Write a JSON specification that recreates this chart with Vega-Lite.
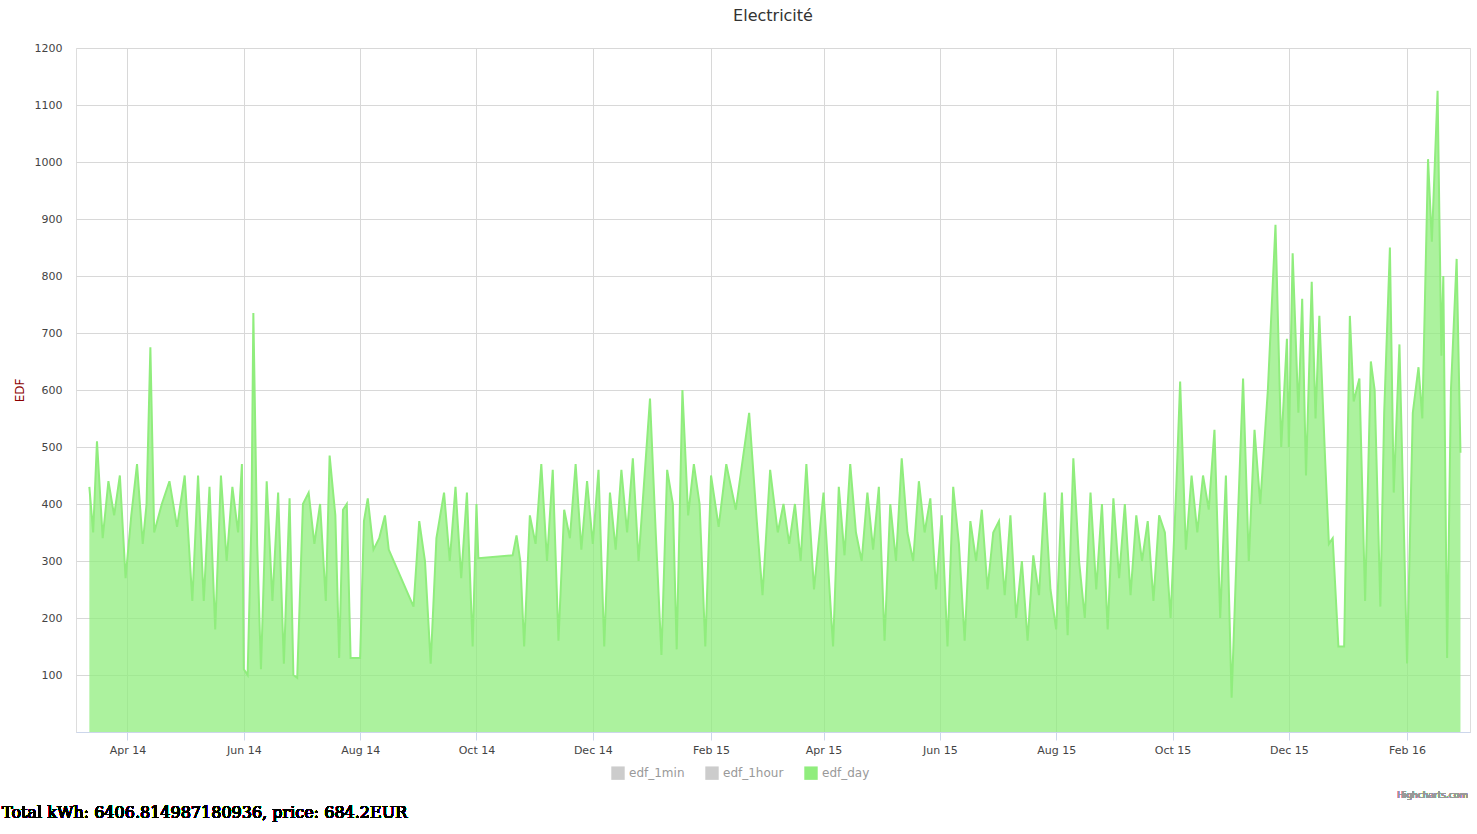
{
"$schema":"https://vega.github.io/schema/vega-lite/v6.json",
"width":1394,"height":684,
"autosize":"none",
"padding":{"left":76,"top":48,"right":7,"bottom":102},
"background":"white",
"title":{"text":"Electricité","font":"DejaVu Sans","fontSize":16,"fontWeight":"normal","color":"#333","offset":18},
"data":{"values":[
{"d":"2014-03-12","v":430},{"d":"2014-03-14","v":350},{"d":"2014-03-16","v":510},{"d":"2014-03-19","v":340},{"d":"2014-03-22","v":440},{"d":"2014-03-25","v":380},{"d":"2014-03-28","v":450},{"d":"2014-03-31","v":270},{"d":"2014-04-03","v":380},{"d":"2014-04-06","v":470},{"d":"2014-04-09","v":330},{"d":"2014-04-11","v":400},{"d":"2014-04-13","v":675},{"d":"2014-04-15","v":350},{"d":"2014-04-19","v":400},{"d":"2014-04-23","v":440},{"d":"2014-04-27","v":360},{"d":"2014-05-01","v":450},{"d":"2014-05-05","v":230},{"d":"2014-05-08","v":450},{"d":"2014-05-11","v":230},{"d":"2014-05-14","v":430},{"d":"2014-05-17","v":180},{"d":"2014-05-20","v":450},{"d":"2014-05-23","v":300},{"d":"2014-05-26","v":430},{"d":"2014-05-29","v":350},{"d":"2014-05-31","v":470},{"d":"2014-06-01","v":110},{"d":"2014-06-03","v":100},{"d":"2014-06-05","v":370},{"d":"2014-06-06","v":735},{"d":"2014-06-08","v":330},{"d":"2014-06-10","v":110},{"d":"2014-06-13","v":440},{"d":"2014-06-16","v":230},{"d":"2014-06-19","v":420},{"d":"2014-06-22","v":120},{"d":"2014-06-25","v":410},{"d":"2014-06-27","v":100},{"d":"2014-06-29","v":95},{"d":"2014-07-02","v":400},{"d":"2014-07-05","v":420},{"d":"2014-07-08","v":330},{"d":"2014-07-11","v":400},{"d":"2014-07-14","v":230},{"d":"2014-07-16","v":485},{"d":"2014-07-19","v":380},{"d":"2014-07-21","v":130},{"d":"2014-07-23","v":390},{"d":"2014-07-25","v":400},{"d":"2014-07-27","v":130},{"d":"2014-08-01","v":130},{"d":"2014-08-03","v":370},{"d":"2014-08-05","v":410},{"d":"2014-08-08","v":320},{"d":"2014-08-11","v":340},{"d":"2014-08-14","v":380},{"d":"2014-08-16","v":320},{"d":"2014-08-29","v":220},{"d":"2014-09-01","v":370},{"d":"2014-09-04","v":300},{"d":"2014-09-07","v":120},{"d":"2014-09-10","v":340},{"d":"2014-09-14","v":420},{"d":"2014-09-17","v":300},{"d":"2014-09-20","v":430},{"d":"2014-09-23","v":270},{"d":"2014-09-26","v":420},{"d":"2014-09-29","v":150},{"d":"2014-10-01","v":400},{"d":"2014-10-02","v":305},{"d":"2014-10-20","v":310},{"d":"2014-10-22","v":345},{"d":"2014-10-24","v":300},{"d":"2014-10-26","v":150},{"d":"2014-10-29","v":380},{"d":"2014-11-01","v":330},{"d":"2014-11-04","v":470},{"d":"2014-11-07","v":300},{"d":"2014-11-10","v":460},{"d":"2014-11-13","v":160},{"d":"2014-11-16","v":390},{"d":"2014-11-19","v":340},{"d":"2014-11-22","v":470},{"d":"2014-11-25","v":320},{"d":"2014-11-28","v":440},{"d":"2014-12-01","v":330},{"d":"2014-12-04","v":460},{"d":"2014-12-07","v":150},{"d":"2014-12-10","v":420},{"d":"2014-12-13","v":320},{"d":"2014-12-16","v":460},{"d":"2014-12-19","v":350},{"d":"2014-12-22","v":480},{"d":"2014-12-25","v":300},{"d":"2014-12-31","v":585},{"d":"2015-01-03","v":350},{"d":"2015-01-06","v":135},{"d":"2015-01-09","v":460},{"d":"2015-01-12","v":400},{"d":"2015-01-14","v":145},{"d":"2015-01-17","v":600},{"d":"2015-01-20","v":380},{"d":"2015-01-23","v":470},{"d":"2015-01-26","v":400},{"d":"2015-01-29","v":150},{"d":"2015-02-01","v":450},{"d":"2015-02-05","v":360},{"d":"2015-02-09","v":470},{"d":"2015-02-14","v":390},{"d":"2015-02-21","v":560},{"d":"2015-02-25","v":370},{"d":"2015-02-28","v":240},{"d":"2015-03-04","v":460},{"d":"2015-03-08","v":350},{"d":"2015-03-11","v":400},{"d":"2015-03-14","v":330},{"d":"2015-03-17","v":400},{"d":"2015-03-20","v":300},{"d":"2015-03-23","v":470},{"d":"2015-03-27","v":250},{"d":"2015-04-01","v":420},{"d":"2015-04-06","v":150},{"d":"2015-04-09","v":430},{"d":"2015-04-12","v":310},{"d":"2015-04-15","v":470},{"d":"2015-04-18","v":350},{"d":"2015-04-21","v":300},{"d":"2015-04-24","v":420},{"d":"2015-04-27","v":320},{"d":"2015-04-30","v":430},{"d":"2015-05-03","v":160},{"d":"2015-05-06","v":400},{"d":"2015-05-09","v":300},{"d":"2015-05-12","v":480},{"d":"2015-05-15","v":350},{"d":"2015-05-18","v":300},{"d":"2015-05-21","v":440},{"d":"2015-05-24","v":350},{"d":"2015-05-27","v":410},{"d":"2015-05-30","v":250},{"d":"2015-06-02","v":380},{"d":"2015-06-05","v":150},{"d":"2015-06-08","v":430},{"d":"2015-06-11","v":330},{"d":"2015-06-14","v":160},{"d":"2015-06-17","v":370},{"d":"2015-06-20","v":300},{"d":"2015-06-23","v":390},{"d":"2015-06-26","v":250},{"d":"2015-06-29","v":350},{"d":"2015-07-02","v":370},{"d":"2015-07-05","v":240},{"d":"2015-07-08","v":380},{"d":"2015-07-11","v":200},{"d":"2015-07-14","v":300},{"d":"2015-07-17","v":160},{"d":"2015-07-20","v":310},{"d":"2015-07-23","v":240},{"d":"2015-07-26","v":420},{"d":"2015-07-29","v":250},{"d":"2015-08-01","v":180},{"d":"2015-08-04","v":420},{"d":"2015-08-07","v":170},{"d":"2015-08-10","v":480},{"d":"2015-08-13","v":300},{"d":"2015-08-16","v":200},{"d":"2015-08-19","v":420},{"d":"2015-08-22","v":250},{"d":"2015-08-25","v":400},{"d":"2015-08-28","v":180},{"d":"2015-08-31","v":410},{"d":"2015-09-03","v":270},{"d":"2015-09-06","v":400},{"d":"2015-09-09","v":240},{"d":"2015-09-12","v":380},{"d":"2015-09-15","v":300},{"d":"2015-09-18","v":370},{"d":"2015-09-21","v":230},{"d":"2015-09-24","v":380},{"d":"2015-09-27","v":350},{"d":"2015-09-30","v":200},{"d":"2015-10-03","v":430},{"d":"2015-10-05","v":615},{"d":"2015-10-08","v":320},{"d":"2015-10-11","v":450},{"d":"2015-10-14","v":350},{"d":"2015-10-17","v":450},{"d":"2015-10-20","v":390},{"d":"2015-10-23","v":530},{"d":"2015-10-26","v":200},{"d":"2015-10-29","v":450},{"d":"2015-11-01","v":60},{"d":"2015-11-04","v":350},{"d":"2015-11-07","v":620},{"d":"2015-11-10","v":300},{"d":"2015-11-13","v":530},{"d":"2015-11-16","v":400},{"d":"2015-11-20","v":600},{"d":"2015-11-24","v":890},{"d":"2015-11-27","v":500},{"d":"2015-11-30","v":690},{"d":"2015-12-01","v":500},{"d":"2015-12-03","v":840},{"d":"2015-12-06","v":560},{"d":"2015-12-08","v":760},{"d":"2015-12-10","v":450},{"d":"2015-12-13","v":790},{"d":"2015-12-15","v":550},{"d":"2015-12-17","v":730},{"d":"2015-12-20","v":480},{"d":"2015-12-22","v":330},{"d":"2015-12-24","v":340},{"d":"2015-12-27","v":150},{"d":"2015-12-30","v":150},{"d":"2016-01-02","v":730},{"d":"2016-01-04","v":580},{"d":"2016-01-07","v":620},{"d":"2016-01-10","v":230},{"d":"2016-01-13","v":650},{"d":"2016-01-15","v":600},{"d":"2016-01-18","v":220},{"d":"2016-01-20","v":560},{"d":"2016-01-23","v":850},{"d":"2016-01-25","v":420},{"d":"2016-01-28","v":680},{"d":"2016-02-01","v":120},{"d":"2016-02-04","v":560},{"d":"2016-02-07","v":640},{"d":"2016-02-09","v":550},{"d":"2016-02-12","v":1005},{"d":"2016-02-14","v":860},{"d":"2016-02-17","v":1125},{"d":"2016-02-19","v":660},{"d":"2016-02-20","v":800},{"d":"2016-02-22","v":130},{"d":"2016-02-24","v":600},{"d":"2016-02-27","v":830},{"d":"2016-02-29","v":490}
]},
"encoding":{
"x":{"field":"d","type":"temporal","scale":{"domain":["2014-03-05","2016-03-05"]},
"axis":{"title":null,"format":"%b %y","values":["2014-04-01","2014-06-01","2014-08-01","2014-10-01","2014-12-01","2015-02-01","2015-04-01","2015-06-01","2015-08-01","2015-10-01","2015-12-01","2016-02-01"],"grid":true,"gridColor":"#d8d8d8","domainColor":"#ccd6eb","tickColor":"#ccd6eb","tickSize":8,"labelFont":"DejaVu Sans","labelFontSize":11,"labelColor":"#444","labelPadding":4}},
"y":{"field":"v","type":"quantitative","scale":{"domain":[0,1200]},
"axis":{"title":"EDF","titleColor":"#8b0000","titleFont":"DejaVu Sans","titleFontSize":12,"titleFontWeight":"normal","titlePadding":8,"values":[0,100,200,300,400,500,600,700,800,900,1000,1100,1200],"labelExpr":"datum.value==0?'':datum.label","format":"d","domain":false,"ticks":false,"gridColor":"#d8d8d8","labelFont":"DejaVu Sans","labelFontSize":11,"labelColor":"#444","labelPadding":14}}
},
"layer":[
{"mark":{"type":"area","fillOpacity":0.75},
"encoding":{
"fill":{"datum":"edf_day","type":"nominal","scale":{"domain":["edf_1min","edf_1hour","edf_day"],"range":["#cccccc","#cccccc","#90ed7d"]},
"legend":{"title":null,"orient":"none","legendX":535,"legendY":718,"direction":"horizontal","symbolType":"square","symbolSize":180,"symbolOpacity":1,"symbolStrokeWidth":0,"labelFont":"DejaVu Sans","labelFontSize":12,"labelColor":"#999","columnPadding":20}}
}},
{"mark":{"type":"line","color":"#90ed7d","strokeWidth":2},"encoding":{}},
{"mark":{"type":"text","align":"left","baseline":"middle","font":"DejaVu Serif","fontSize":16,"fontWeight":"normal","color":"#000"},
"encoding":{"x":{"value":-74},"y":{"value":765},"text":{"datum":"Total kWh: 6406.814987180936, price: 684.2EUR"}}},
{"mark":{"type":"text","align":"right","baseline":"middle","font":"DejaVu Sans","fontSize":9,"color":"#999"},
"encoding":{"x":{"value":1392},"y":{"value":747},"text":{"datum":"Highcharts.com"}}}
]
}
